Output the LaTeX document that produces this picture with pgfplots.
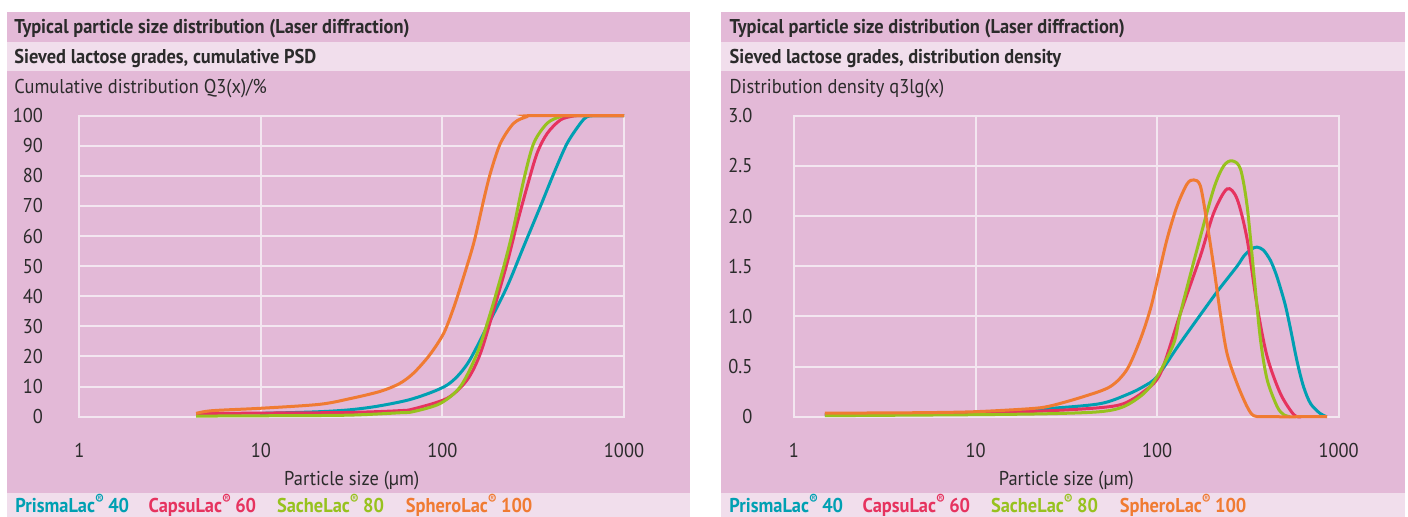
\documentclass[border=0pt]{standalone}
\usepackage{pgfplots}
\pgfplotsset{compat=1.18}
\usepackage{fontspec}
\setmainfont{PT Sans}[FakeStretch=0.92]

\definecolor{pinkbg}{HTML}{E3B9D7}
\definecolor{pinklt}{HTML}{F1DEEC}
\definecolor{gridc}{HTML}{F3E6F0}
\definecolor{txt}{HTML}{2B2B2B}
\definecolor{cteal}{HTML}{00A0B2}
\definecolor{cred}{HTML}{E6335F}
\definecolor{cgreen}{HTML}{97C21E}
\definecolor{corange}{HTML}{F07B32}

\begin{document}
\begin{tikzpicture}
\fill[white] (0,0) rectangle (704pt,258.5pt);
% panel backgrounds
\foreach \xa/\xb in {3.35pt/345pt, 360.35pt/702.5pt}{
  \fill[pinkbg] (\xa,252.65pt) rectangle (\xb,237.65pt);
  \fill[pinklt] (\xa,237.65pt) rectangle (\xb,223pt);
  \fill[pinkbg] (\xa,223pt) rectangle (\xb,11.85pt);
  \fill[pinklt] (\xa,11.85pt) rectangle (\xb,0pt);
}

% titles, axis titles, legends
\begin{scope}[every node/.style={anchor=base west, inner sep=0pt, text=txt, font=\fontsize{10}{12}\selectfont}]
\node[font=\fontsize{10}{12}\selectfont\bfseries] at (7pt,241.85pt) {Typical particle size distribution (Laser diffraction)};
\node[font=\fontsize{10}{12}\selectfont\bfseries] at (7pt,226.85pt) {Sieved lactose grades, cumulative PSD};
\node at (7pt,211.85pt) {Cumulative distribution Q3(x)/\%};
\node[anchor=base] at (175.85pt,15.5pt) {Particle size (µm)};
\node[font=\fontsize{10}{12}\selectfont\bfseries] at (364.65pt,241.85pt) {Typical particle size distribution (Laser diffraction)};
\node[font=\fontsize{10}{12}\selectfont\bfseries] at (364.65pt,226.85pt) {Sieved lactose grades, distribution density};
\node at (364.65pt,211.85pt) {Distribution density q3lg(x)};
\node[anchor=base] at (533.2pt,15.5pt) {Particle size (µm)};
\foreach \dx in {0pt,357pt}{
  \node[text=cteal, font=\fontsize{10}{12}\selectfont\bfseries] at ([xshift=\dx]7.5pt,2.4pt) {PrismaLac\textsuperscript{®}\,40};
  \node[text=cred, font=\fontsize{10}{12}\selectfont\bfseries] at ([xshift=\dx]74.15pt,2.4pt) {CapsuLac\textsuperscript{®}\,60};
  \node[text=cgreen, font=\fontsize{10}{12}\selectfont\bfseries] at ([xshift=\dx]138.35pt,2.4pt) {SacheLac\textsuperscript{®}\,80};
  \node[text=corange, font=\fontsize{10}{12}\selectfont\bfseries] at ([xshift=\dx]202.75pt,2.4pt) {SpheroLac\textsuperscript{®}\,100};
}
\end{scope}

% cumulative PSD
\begin{semilogxaxis}[
    at={(39.65pt,50.15pt)}, anchor=south west,
    scale only axis, width=272.35pt, height=150.5pt,
    xmin=1, xmax=1000, xtick={1,10,100,1000}, xticklabels={1,10,100,1000},
    xminorticks=false,
    ymin=0, ymax=100, ytick={0,10,...,100},
    grid=major, major grid style={draw=gridc, line width=1pt},
    axis line style={draw=gridc, line width=1pt},
    major tick length=0pt, tick style={draw=none},
    /pgf/number format/assume math mode=true,
    tick label style={font=\fontsize{10}{12}\selectfont, text=txt},
    xticklabel style={anchor=north, inner sep=0pt, yshift=-13pt},
    yticklabel style={anchor=east, inner sep=0pt, xshift=-18pt},
    clip=false,
    every axis plot/.append style={smooth, line width=1.5pt, no markers},
  ]
\addplot[cteal] coordinates {(9.9,1.1) (20,1.6) (31,2.3) (45,3.6) (69,6.0) (106,10.5) (137,17.5)
  (176,29.9) (227,43.2) (280,56.5) (346,69.8) (411,80.9) (486,90.8) (576,97.5) (627,99.7)
  (700,100) (1000,100)};
\addplot[cred] coordinates {(4.4,1.0) (10,1.2) (30,1.4) (58,2.0) (69.4,2.6) (106,6.1)
  (136.7,12.2) (161.8,21) (191.4,35.4) (227,51) (257.8,64.2) (292.6,76.4) (332,87.5)
  (377.6,94.1) (446.7,98.6) (528.8,99.9) (600,100) (1000,100)};
\addplot[cgreen] coordinates {(4.4,0.2) (10,0.3) (30,0.5) (58,1.3) (69.4,1.7) (97.3,4.4)
  (125.5,10) (155.2,21) (183.7,34.4) (217.5,49.8) (247,63) (280.3,78.6) (318,90.8)
  (377.6,97.5) (446.7,99.7) (486.3,100) (1000,100)};
\addplot[corange] coordinates {(4.4,1.1) (5.4,2.0) (10,2.8) (21,4.1) (31,6.0) (45.4,8.4)
  (58,11.0) (69.4,14.5) (85,20.5) (101.6,27.7) (115,36) (125.5,43) (148.6,57.6) (168.7,72)
  (183.7,80.9) (208.5,90.8) (247,97.5) (292.6,99.7) (318,100) (1000,100)};
\end{semilogxaxis}

% distribution density
\begin{semilogxaxis}[
    at={(397pt,50.15pt)}, anchor=south west,
    scale only axis, width=272.35pt, height=150.5pt,
    xmin=1, xmax=1000, xtick={1,10,100,1000}, xticklabels={1,10,100,1000},
    xminorticks=false,
    ymin=0, ymax=3, ytick={0,0.5,1,1.5,2,2.5,3},
    yticklabels={0,0.5,1.0,1.5,2.0,2.5,3.0},
    grid=major, major grid style={draw=gridc, line width=1pt},
    axis line style={draw=gridc, line width=1pt},
    major tick length=0pt, tick style={draw=none},
    /pgf/number format/assume math mode=true,
    tick label style={font=\fontsize{10}{12}\selectfont, text=txt},
    xticklabel style={anchor=north, inner sep=0pt, yshift=-13pt},
    yticklabel style={anchor=east, inner sep=0pt, xshift=-20.65pt},
    clip=false,
    every axis plot/.append style={smooth, line width=1.5pt, no markers},
  ]
\addplot[cteal] coordinates {(1.48,0.02) (10,0.04) (25.8,0.083) (48.6,0.13) (68.2,0.22)
  (84,0.3) (100,0.4) (130,0.7) (166,0.97) (215,1.25) (275.6,1.5) (300,1.6) (330,1.67)
  (355,1.69) (385,1.66) (420,1.56) (450,1.43) (480,1.27) (510,1.1) (542,0.88) (590,0.55)
  (640,0.3) (700,0.13) (793,0.03) (860,0)};
\addplot[cred] coordinates {(1.48,0.02) (10,0.035) (25.8,0.06) (48.6,0.09) (65.4,0.13)
  (84.3,0.25) (104.2,0.43) (134.3,1.03) (173,1.6) (204.8,2.03) (242.6,2.27) (275.6,2.17)
  (313,1.77) (355.6,1.1) (403.4,0.6) (477.5,0.23) (566,0.02) (620,0)};
\addplot[cgreen] coordinates {(1.48,0.01) (10,0.02) (25.8,0.03) (48.6,0.05) (65.4,0.1)
  (84.3,0.23) (100,0.4) (123.4,0.73) (134.3,1.03) (166,1.67) (204.8,2.27) (232.6,2.5)
  (258.8,2.55) (287.6,2.47) (313,2.1) (340.6,1.43) (370.7,0.77) (403.4,0.37) (458.3,0.1)
  (498,0.02) (540,0)};
\addplot[corange] coordinates {(1.48,0.035) (5,0.04) (10,0.05) (20,0.08) (25.8,0.107)
  (39.3,0.2) (55.2,0.3) (68.2,0.47) (80.8,0.77) (91.7,1.07) (100,1.35) (113.4,1.77)
  (128.8,2.1) (146.2,2.32) (159,2.36) (173,2.3) (188.3,1.93) (204.8,1.5) (222.8,1.03)
  (242.6,0.63) (275.6,0.33) (313,0.1) (340.6,0.01) (400,0) (864,0)};
\end{semilogxaxis}

\pgfresetboundingbox
\path (0,0) rectangle (704pt,258.5pt);
\end{tikzpicture}
\end{document}
